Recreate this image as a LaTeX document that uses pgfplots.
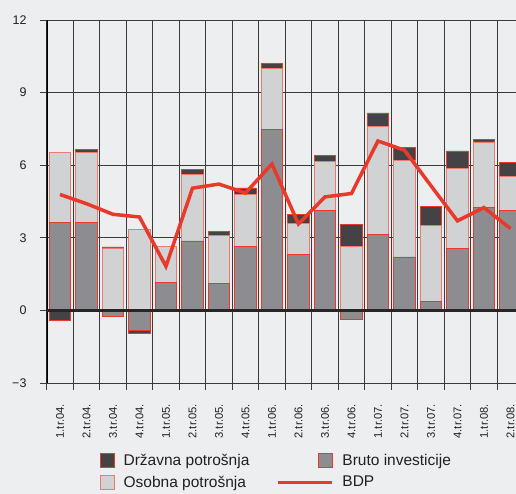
\documentclass[border=0pt]{standalone}
\usepackage{pgfplots}
\pgfplotsset{compat=1.18}
\usepackage{pgfplotstable}
\usepackage{fontspec}
\setmainfont{Liberation Sans}
\definecolor{bg}{HTML}{EDEEF0}
\definecolor{drz}{HTML}{454246}
\definecolor{inv}{HTML}{8D8C91}
\definecolor{osob}{HTML}{D1D2D4}
\definecolor{red1}{HTML}{E8392A}
\definecolor{pink1}{HTML}{EE7A6E}
\definecolor{gridc}{HTML}{3A3A3A}
\definecolor{txt}{HTML}{231F20}

% positive parts: inv, osob, drz ; negative parts: invn, drzn
\pgfplotstableread{
x  inv  osob drz  invn  drzn  bdp
0  3.65 2.87 0.00  0.00 -0.41 4.79
1  3.63 2.89 0.14  0.00  0.00 4.41
2  0.00 2.57 0.05 -0.25  0.00 3.97
3  0.00 3.34 0.00 -0.83 -0.13 3.86
4  1.15 1.51 0.00  0.00  0.00 1.82
5  2.87 2.76 0.19  0.00  0.00 5.05
6  1.13 1.97 0.18  0.00  0.00 5.22
7  2.65 2.14 0.27  0.00  0.00 4.85
8  7.48 2.52 0.21  0.00  0.00 6.05
9  2.32 1.29 0.36  0.00  0.00 3.57
10 4.14 2.00 0.27  0.00  0.00 4.69
11 0.00 2.66 0.90 -0.36  0.00 4.83
12 3.14 4.45 0.57  0.00  0.00 7.00
13 2.21 3.97 0.54  0.00  0.00 6.62
14 0.37 3.15 0.78  0.00  0.00 5.15
15 2.55 3.31 0.73  0.00  0.00 3.70
16 4.27 2.69 0.10  0.00  0.00 4.25
17 4.14 1.38 0.60  0.00  0.00 3.38
}\data

\begin{document}
\begin{tikzpicture}
\useasboundingbox (0,0) rectangle (516pt,494pt);
\fill[bg] (0,0) rectangle (516pt,494pt);
\clip (0,0) rectangle (516pt,494pt);
\begin{axis}[
  at={(46.7pt,111pt)}, anchor=south west,
  scale only axis, width=477pt, height=363pt,
  xmin=-0.5, xmax=17.5, ymin=-3, ymax=12,
  axis line style={draw=none},
  ytick={-3,0,3,6,9,12},
  yticklabels={−3,0,3,6,9,12},
  minor ytick={-3,0,3,6,9,12},
  ymajorgrids,
  xtick={0,...,17},
  xticklabels={1.tr.04.,2.tr.04.,3.tr.04.,4.tr.04.,1.tr.05.,2.tr.05.,3.tr.05.,4.tr.05.,1.tr.06.,2.tr.06.,3.tr.06.,4.tr.06.,1.tr.07.,2.tr.07.,3.tr.07.,4.tr.07.,1.tr.08.,2.tr.08.},
  minor xtick={-0.5,0.5,...,17.5},
  xminorgrids,
  grid style={gridc, line width=0.9pt},
  minor grid style={gridc, line width=0.9pt},
  major grid style={gridc, line width=0.9pt},
  tick align=outside,
  major tick length=0pt,
  minor tick length=7pt,
  tick style={gridc, line width=0.9pt},
  xtick pos=bottom, ytick pos=left,
  xticklabel style={rotate=90, anchor=east, inner sep=0pt, font=\fontsize{11.2}{13}\selectfont, text=txt},
  yticklabel style={anchor=east, inner sep=0pt, font=\fontsize{12.5}{14}\selectfont, text=txt},
  xticklabel shift=21pt,
  yticklabel shift=20pt,
  legend columns=2,
  legend cell align=left,
  legend style={at={(axis description cs:0.029,-0.19)}, anchor=north west,
    draw=none, fill=none, inner sep=0pt,
    font=\fontsize{15.5}{18}\selectfont, text=txt,
    /tikz/every odd column/.append style={column sep=6.5pt},
    /tikz/every even column/.append style={column sep=25pt},
    row sep=5pt},
]
\addlegendimage{legend image code/.code={\path[draw=none,fill=none] (-40pt,-7pt) rectangle (14pt,7pt); \draw[draw=red1, fill=drz, line width=0.8pt] (0pt,-7pt) rectangle (14pt,7pt);}}
\addlegendentry{Državna potrošnja}
\addlegendimage{legend image code/.code={\path[draw=none,fill=none] (-40pt,-7pt) rectangle (14pt,7pt); \draw[draw=red1, fill=inv, line width=0.8pt] (0pt,-7pt) rectangle (14pt,7pt);}}
\addlegendentry{Bruto investicije}
\addlegendimage{legend image code/.code={\path[draw=none,fill=none] (-40pt,-7pt) rectangle (14pt,7pt); \draw[draw=pink1, fill=osob, line width=0.8pt] (0pt,-7pt) rectangle (14pt,7pt);}}
\addlegendentry{Osobna potrošnja}
\addlegendimage{legend image code/.code={\path[draw=none,fill=none] (-40pt,-7pt) rectangle (14pt,7pt); \draw[red1, line width=3.5pt] (-40pt,0pt) -- (14pt,0pt);}}
\addlegendentry{BDP}

% positive stacks (drawn tallest first)
\addplot[ybar, bar width=21.5pt, bar shift=0pt, fill=drz, draw=red1, line width=0.8pt, forget plot]
  table[x=x, y expr=\thisrow{inv}+\thisrow{osob}+\thisrow{drz}] {\data};
\addplot[ybar, bar width=21.5pt, bar shift=0pt, fill=osob, draw=pink1, line width=0.8pt, forget plot]
  table[x=x, y expr=\thisrow{inv}+\thisrow{osob}] {\data};
\addplot[ybar, bar width=21.5pt, bar shift=0pt, fill=inv, draw=red1, line width=0.8pt, forget plot]
  table[x=x, y=inv] {\data};
% negative stacks
\addplot[ybar, bar width=21.5pt, bar shift=0pt, fill=drz, draw=red1, line width=0.8pt, forget plot]
  table[x=x, y expr=\thisrow{invn}+\thisrow{drzn}] {\data};
\addplot[ybar, bar width=21.5pt, bar shift=0pt, fill=inv, draw=red1, line width=0.8pt, forget plot]
  table[x=x, y=invn] {\data};

\draw[black, line width=2pt] (axis cs:-0.5,-3) -- (axis cs:-0.5,12);
\draw[black!85, line width=2.4pt] (axis cs:-0.5,0) -- (axis cs:17.5,0);

\addplot[red1, line width=3.5pt, forget plot] table[x=x, y=bdp] {\data};
\end{axis}
\end{tikzpicture}
\end{document}
